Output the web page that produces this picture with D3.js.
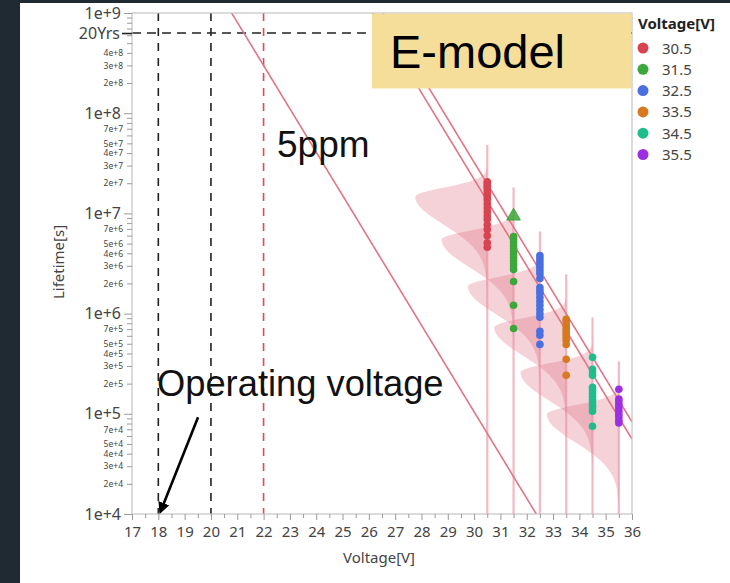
<!DOCTYPE html>
<html><head><meta charset="utf-8">
<script src="https://cdn.jsdelivr.net/npm/d3@7"></script>
<style>
html,body{margin:0;padding:0;background:#1f2a32;}
svg{display:block;}
</style></head><body>
<svg id="chart" width="730" height="583"></svg>
<script>
// ---------------- data ----------------
const voltages = [30.5, 31.5, 32.5, 33.5, 34.5, 35.5];
const voltageLabels = ["30.5", "31.5", "32.5", "33.5", "34.5", "35.5"];
const seriesColors = ["#d9434f", "#3ca83b", "#4a6fe0", "#d6791f", "#20bd8c", "#9d2fe3"];
const life305 = [2.07e7,1.98e7,1.89e7,1.81e7,1.69e7,1.57e7,1.47e7,1.37e7,1.25e7,1.14e7,1.04e7,9.5e6,8.7e6,7.7e6,6.9e6,6.0e6,5.1e6,4.6e6];
const life315 = [5.87e6,5.48e6,5.12e6,4.78e6,4.46e6,4.17e6,3.89e6,3.63e6,3.39e6,3.16e6,2.95e6,2.75e6,2.09e6,1.21e6,7.1e5];
const life325 = [3.80e6,3.55e6,3.31e6,3.09e6,2.88e6,2.69e6,2.51e6,2.24e6,1.82e6,1.70e6,1.59e6,1.45e6,1.32e6,1.21e6,1.10e6,1.00e6,9.2e5,6.65e5,6.07e5,4.93e5];
const life335 = [8.75e5,8.17e5,7.62e5,7.13e5,6.65e5,6.21e5,5.80e5,5.41e5,4.93e5,3.50e5,2.42e5];
const life345 = [3.66e5,2.78e5,2.59e5,2.42e5,1.84e5,1.72e5,1.60e5,1.50e5,1.40e5,1.31e5,1.22e5,1.14e5,1.06e5,7.5e4];
const life355 = [1.76e5,1.40e5,1.31e5,1.22e5,1.14e5,1.06e5,9.9e4,9.3e4,8.6e4,8.1e4];
const censoredVoltage = [31.5];
const censoredLife = [9.4e6];
// fitted life distributions per voltage (mode and upper end of drawn range)
const densityMode = [1.47e7, 5.48e6, 1.87e6, 7.29e5, 2.59e5, 9.9e4];
const densityTop  = [4.84e7, 1.81e7, 6.59e6, 2.46e6, 9.16e5, 3.34e5];
const sigmaUp = 0.09, sigmaDown = 0.28;   // decades
// E-model lines: log10(L) = intercept - slope*V
const modelSlope = 0.432;
const modelIntercepts = [17.98, 20.30, 20.47];
// reference lines
const refVoltagesBlack = [18, 20];
const refVoltageRed = [22];
const twentyYears = 631152000;
// axis ticks
const xTicks = [17,18,19,20,21,22,23,24,25,26,27,28,29,30,31,32,33,34,35,36];
const yMajor = [1e4,1e5,1e6,1e7,1e8,1e9];
const yMinorLabeled = [2e4,3e4,4e4,5e4,7e4, 2e5,3e5,4e5,5e5,7e5, 2e6,3e6,4e6,5e6,7e6, 2e7,3e7,4e7,5e7,7e7, 2e8,3e8,4e8];
// annotations
const arrowFrom = [19.51, 9.25e4];
const arrowTo = [18.08, 1.05e4];

// ---------------- layout ----------------
const plot = {left:132, right:632, top:13, bottom:514};
const svg = d3.select("#chart");
svg.append("rect").attr("x",20).attr("y",3).attr("width",710).attr("height",580).attr("fill","#fff");

const x = d3.scaleLinear().domain([17,36]).range([plot.left, plot.right]);
const y = d3.scaleLog().domain([1e4,1e9]).range([plot.bottom, plot.top]);
const widthScale = d3.scaleLinear().domain([0,1]).range([0,72]);

svg.append("defs").append("clipPath").attr("id","clip")
  .append("rect").attr("x",plot.left).attr("y",plot.top)
  .attr("width",plot.right-plot.left).attr("height",plot.bottom-plot.top);

const g = svg.append("g").attr("clip-path","url(#clip)");

// densities
function shape(d){ const s = d>0 ? sigmaUp : sigmaDown; return Math.exp(-d*d/(2*s*s)); }
const logLow = 4;
voltages.forEach((v,i)=>{
  const lm = Math.log10(densityMode[i]), lt = Math.log10(densityTop[i]);
  const samples = d3.range(0,201).map(k => logLow + (lt-logLow)*k/200);
  const area = d3.area()
    .y(l => y(Math.pow(10,l)))
    .x0(() => x(v))
    .x1(l => x(v) - widthScale(shape(l-lm)));
  g.append("path").attr("d", area(samples))
    .attr("fill","rgba(222,100,122,0.29)").attr("stroke","none");
});
voltages.forEach((v,i)=>{
  g.append("line").attr("x1",x(v)).attr("x2",x(v))
    .attr("y1",y(densityTop[i])).attr("y2",y(1e4))
    .attr("stroke","rgba(232,140,158,0.6)").attr("stroke-width",2.2);
});

// reference dashed lines
g.append("line").attr("x1",x(17)).attr("x2",x(36)).attr("y1",y(twentyYears)).attr("y2",y(twentyYears))
  .attr("stroke","#222").attr("stroke-width",1.6).attr("stroke-dasharray","9,6");
refVoltagesBlack.forEach(v=>{
  g.append("line").attr("x1",x(v)).attr("x2",x(v)).attr("y1",y(1e9)).attr("y2",y(1e4))
    .attr("stroke","#222").attr("stroke-width",1.6).attr("stroke-dasharray","8,7");
});
refVoltageRed.forEach(v=>{
  g.append("line").attr("x1",x(v)).attr("x2",x(v)).attr("y1",y(1e9)).attr("y2",y(1e4))
    .attr("stroke","#dc4a60").attr("stroke-width",1.6).attr("stroke-dasharray","8,7");
});

// model lines
modelIntercepts.forEach(c=>{
  const vs = d3.range(17, 36.01, 0.05);
  const line = d3.line().x(v=>x(v)).y(v=>y(Math.pow(10, c - modelSlope*v)));
  g.append("path").attr("d", line(vs)).attr("fill","none")
    .attr("stroke","#e07584").attr("stroke-width",1.6);
});

// points
const allSeries = [life305, life315, life325, life335, life345, life355];
allSeries.forEach((arr,i)=>{
  g.selectAll(null).data(arr).enter().append("circle")
    .attr("cx", x(voltages[i])).attr("cy", d=>y(d)).attr("r",3.8)
    .attr("fill", seriesColors[i]);
});
censoredLife.forEach((L,k)=>{
  const ci = voltages.indexOf(censoredVoltage[k]);
  g.append("path").attr("d", d3.symbol(d3.symbolTriangle, 80)())
    .attr("transform", `translate(${x(censoredVoltage[k])},${y(L)})`)
    .attr("fill", seriesColors[ci]).attr("stroke", seriesColors[ci]).attr("stroke-width",1).attr("fill-opacity",0.85);
});

// frame
svg.append("rect").attr("x",plot.left).attr("y",plot.top)
  .attr("width",plot.right-plot.left).attr("height",plot.bottom-plot.top)
  .attr("fill","none").attr("stroke","#c4c4c4").attr("stroke-width",1.2);

// axes
function fmtExp(d){ const e = Math.floor(Math.log10(d)+1e-9); const m = Math.round(d/Math.pow(10,e)); return m+"e+"+e; }
const tickColor = "#9a9a9a";
const axisFont = "'Noto Sans', 'Open Sans', sans-serif";

const yMinorAll = [];
yMajor.slice(0,-1).forEach(b=>{ for(let k=2;k<=9;k++) yMinorAll.push(b*k); });
const labeledSet = new Set(yMinorLabeled.map(d=>d.toPrecision(3)));

const yMinAx = svg.append("g").attr("transform",`translate(${plot.left},0)`)
  .call(d3.axisLeft(y).tickValues(yMinorAll).tickSize(5).tickPadding(4)
    .tickFormat(d => labeledSet.has(d.toPrecision(3)) ? fmtExp(d) : ""));
yMinAx.selectAll("text").attr("font-size","8.5px").attr("font-family",axisFont).attr("fill","#444");

const yMajAx = svg.append("g").attr("transform",`translate(${plot.left},0)`)
  .call(d3.axisLeft(y).tickValues(yMajor).tickSize(8).tickPadding(3).tickFormat(fmtExp));
yMajAx.selectAll("text").attr("font-size","16px").attr("font-family",axisFont).attr("fill","#444");

const y20 = svg.append("g").attr("transform",`translate(${plot.left},0)`)
  .call(d3.axisLeft(y).tickValues([twentyYears]).tickSize(10).tickPadding(2).tickFormat(()=>"20Yrs"));
y20.selectAll("text").attr("font-size","16px").attr("font-family",axisFont).attr("fill","#444");
y20.selectAll("line").attr("stroke","#222").attr("stroke-width",1.6);

const xMinAx = svg.append("g").attr("transform",`translate(0,${plot.bottom})`)
  .call(d3.axisBottom(x).tickValues(xTicks.slice(0,-1).map(v=>v+0.5)).tickSize(4).tickFormat(""));
const xAx = svg.append("g").attr("transform",`translate(0,${plot.bottom})`)
  .call(d3.axisBottom(x).tickValues(xTicks).tickSize(6).tickPadding(6).tickFormat(d3.format("d")));
xAx.selectAll("text").attr("font-size","15px").attr("font-family",axisFont).attr("fill","#444");

[yMinAx,yMajAx,y20,xMinAx,xAx].forEach(a=>a.select(".domain").remove());
[yMinAx,yMajAx,xMinAx,xAx].forEach(a=>a.selectAll("line").attr("stroke",tickColor));

// axis titles
svg.append("text").attr("x",379).attr("y",563).attr("text-anchor","middle")
  .attr("font-family",axisFont).attr("font-size","15px").attr("fill","#444").text("Voltage[V]");
svg.append("text").attr("transform","translate(64,262) rotate(-90)").attr("text-anchor","middle")
  .attr("font-family",axisFont).attr("font-size","15px").attr("fill","#444").text("Lifetime[s]");

// E-model box
svg.append("rect").attr("x",x(26.12)).attr("y",plot.top+0.6)
  .attr("width",plot.right-1-x(26.12)).attr("height",y(1.79e8)-plot.top)
  .attr("fill","#f5de9a");
const annFont = "'Liberation Sans', Arial, sans-serif";
svg.append("text").attr("x",390).attr("y",68).attr("font-family",annFont).attr("font-size","47px")
  .attr("fill","#000").text("E-model");
svg.append("text").attr("x",x(22.51)).attr("y",y(3.68e7)).attr("font-family",annFont).attr("font-size","37px")
  .attr("fill","#111").text("5ppm");
svg.append("text").attr("x",x(17.95)).attr("y",y(1.5e5)).attr("font-family",annFont).attr("font-size","36.3px")
  .attr("fill","#111").text("Operating voltage");

// arrow
svg.append("defs").append("marker").attr("id","ah").attr("viewBox","0 0 10 10")
  .attr("refX",8).attr("refY",5).attr("markerWidth",4.5).attr("markerHeight",4.5).attr("orient","auto")
  .append("path").attr("d","M0,0L10,5L0,10z").attr("fill","#000");
svg.append("line").attr("x1",x(arrowFrom[0])).attr("y1",y(arrowFrom[1]))
  .attr("x2",x(arrowTo[0])).attr("y2",y(arrowTo[1]))
  .attr("stroke","#000").attr("stroke-width",2.6).attr("marker-end","url(#ah)");

// legend
const lg = svg.append("g");
lg.append("text").attr("x",638).attr("y",29).attr("font-family",axisFont).attr("font-weight","bold")
  .attr("font-size","15px").attr("fill","#222").text("Voltage[V]");
voltageLabels.forEach((t,i)=>{
  const cy = 48 + i*21.3;
  lg.append("circle").attr("cx",643).attr("cy",cy).attr("r",5.5).attr("fill",seriesColors[i]);
  lg.append("text").attr("x",662).attr("y",cy+5.5).attr("font-family",axisFont).attr("font-size","15px")
    .attr("fill","#444").text(t);
});
</script>
</body></html>
